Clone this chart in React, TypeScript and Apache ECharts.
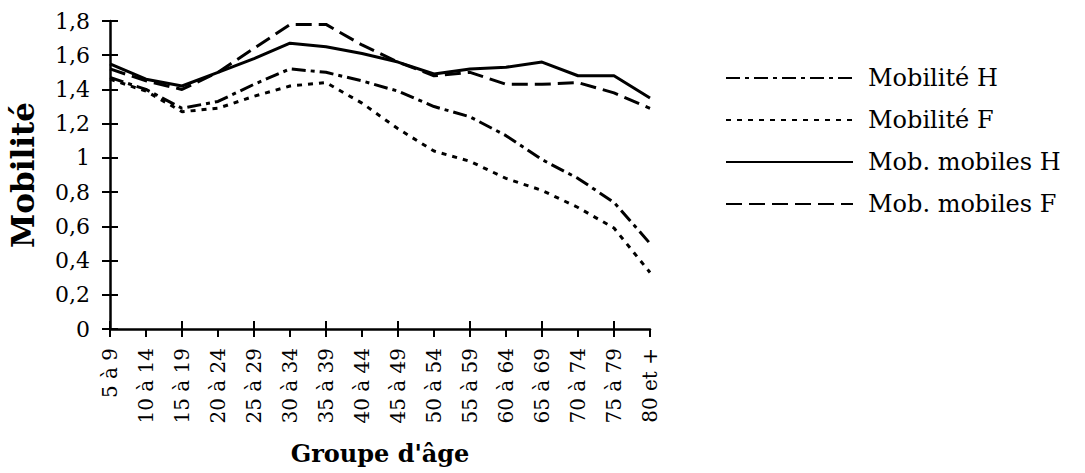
import React, { useEffect, useRef } from "react";
import * as echarts from "echarts";

const categories = [
  "5 à 9", "10 à 14", "15 à 19", "20 à 24", "25 à 29", "30 à 34", "35 à 39", "40 à 44",
  "45 à 49", "50 à 54", "55 à 59", "60 à 64", "65 à 69", "70 à 74", "75 à 79", "80 et +",
];
const mobiliteH = [1.47, 1.40, 1.29, 1.33, 1.43, 1.52, 1.50, 1.45, 1.39, 1.30, 1.24, 1.13, 0.99, 0.88, 0.74, 0.50];
const mobiliteF = [1.46, 1.39, 1.27, 1.29, 1.36, 1.42, 1.44, 1.32, 1.17, 1.04, 0.98, 0.88, 0.81, 0.71, 0.59, 0.33];
const mobMobilesH = [1.55, 1.46, 1.42, 1.50, 1.58, 1.67, 1.65, 1.61, 1.56, 1.49, 1.52, 1.53, 1.56, 1.48, 1.48, 1.35];
const mobMobilesF = [1.52, 1.45, 1.40, 1.50, 1.64, 1.78, 1.78, 1.66, 1.56, 1.48, 1.50, 1.43, 1.43, 1.44, 1.38, 1.29];
const seriesNames = ["Mobilité H", "Mobilité F", "Mob. mobiles H", "Mob. mobiles F"];

const FONT = "'DejaVu Serif', 'Liberation Serif', serif";

export default function App() {
  const ref = useRef<HTMLDivElement>(null);
  useEffect(() => {
    if (!ref.current) return;
    const chart = echarts.init(ref.current, undefined, { renderer: "svg" });
    const lineSeries = (name: string, data: number[], type: any) => ({
      name,
      type: "line",
      data,
      symbol: "none",
      showSymbol: false,
      smooth: false,
      lineStyle: { color: "#000", width: 3, type },
      itemStyle: { color: "#000" },
    });
    chart.setOption({
      animation: false,
      backgroundColor: "#fff",
      grid: { left: 110, top: 21, width: 540, height: 308, containLabel: false },
      legend: {
        orient: "vertical",
        left: 720,
        top: 61,
        itemWidth: 127,
        itemHeight: 14,
        itemGap: 18,
        itemStyle: { opacity: 0 },
        textStyle: { fontFamily: FONT, fontSize: 24, color: "#000", lineHeight: 24, padding: [0, 0, 0, 10] },
        data: seriesNames,
      },
      xAxis: [
        {
          type: "category",
          data: categories,
          boundaryGap: false,
          position: "bottom",
          name: "Groupe d'âge",
          nameLocation: "middle",
          nameGap: 112,
          nameTextStyle: { fontFamily: FONT, fontSize: 24, fontWeight: "bold", color: "#000" },
          axisLine: { lineStyle: { color: "#000", width: 2.5 } },
          axisTick: { show: true, length: 8, lineStyle: { color: "#000", width: 2 } },
          axisLabel: { rotate: 90, interval: 0, margin: 19, fontFamily: FONT, fontSize: 20, color: "#000" },
          splitLine: { show: false },
        },
        {
          type: "category",
          data: categories,
          boundaryGap: false,
          position: "bottom",
          offset: 0,
          axisLine: { show: false },
          axisTick: { show: true, inside: true, length: 8, lineStyle: { color: "#000", width: 2 } },
          axisLabel: { show: false },
          splitLine: { show: false },
        },
      ],
      yAxis: [
        {
          type: "value",
          min: 0,
          max: 1.8,
          interval: 0.2,
          position: "left",
          name: "Mobilité",
          nameLocation: "middle",
          nameGap: 72,
          nameTextStyle: { fontFamily: FONT, fontSize: 31, fontWeight: "bold", color: "#000" },
          axisLine: { show: true, lineStyle: { color: "#000", width: 2.5 } },
          axisTick: { show: true, length: 8, lineStyle: { color: "#000", width: 2 } },
          axisLabel: {
            margin: 20,
            fontFamily: FONT,
            fontSize: 22,
            color: "#000",
            formatter: (v: number) => (Math.round(v * 10) / 10).toString().replace(".", ","),
          },
          splitLine: { show: false },
        },
        {
          type: "value",
          min: 0,
          max: 1.8,
          interval: 0.2,
          position: "left",
          offset: 0,
          axisLine: { show: false },
          axisTick: { show: true, inside: true, length: 8, lineStyle: { color: "#000", width: 2 } },
          axisLabel: { show: false },
          splitLine: { show: false },
        },
      ],
      series: [
        lineSeries(seriesNames[0], mobiliteH, [14, 5, 4, 5]),
        lineSeries(seriesNames[1], mobiliteF, [5, 6]),
        lineSeries(seriesNames[2], mobMobilesH, "solid"),
        lineSeries(seriesNames[3], mobMobilesF, [16, 7]),
      ],
    });
    return () => chart.dispose();
  }, []);
  return (
    <div
      ref={ref}
      style={{ position: "absolute", left: 0, top: 0, width: 1085, height: 473, background: "#fff" }}
    />
  );
}
